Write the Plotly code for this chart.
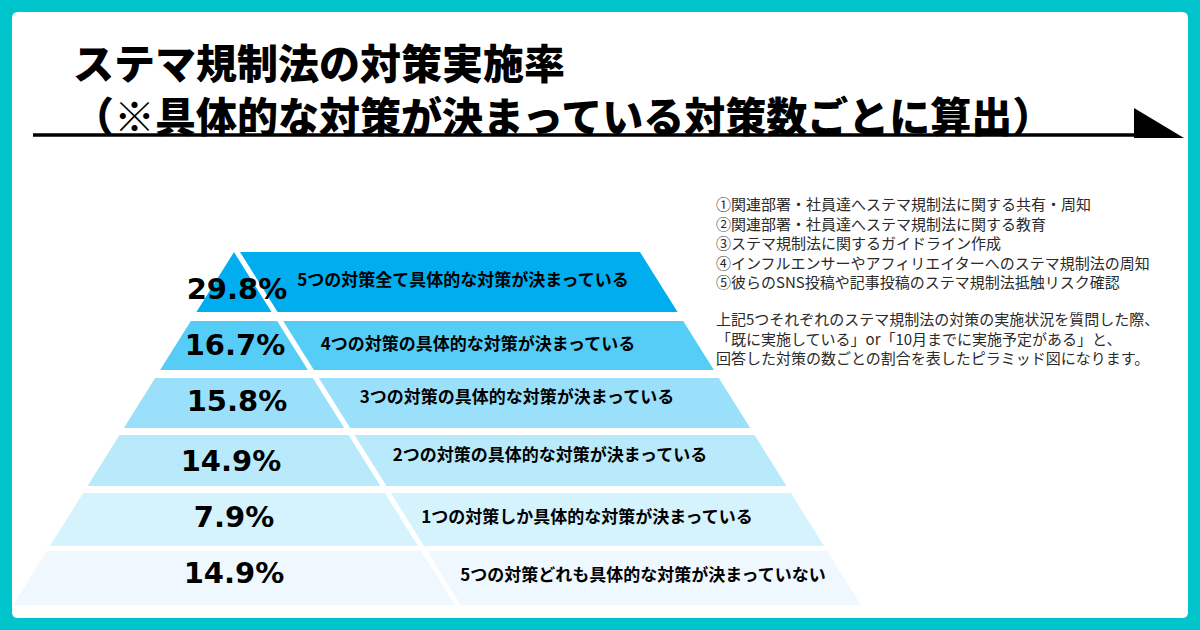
import plotly.graph_objects as go

# ---------------- data ----------------
pct_values = [29.8, 16.7, 15.8, 14.9, 7.9, 14.9]
tier_labels = [
    "5つの対策全て具体的な対策が決まっている",
    "4つの対策の具体的な対策が決まっている",
    "3つの対策の具体的な対策が決まっている",
    "2つの対策の具体的な対策が決まっている",
    "1つの対策しか具体的な対策が決まっている",
    "5つの対策どれも具体的な対策が決まっていない",
]
title_lines = [
    "ステマ規制法の対策実施率",
    "（※具体的な対策が決まっている対策数ごとに算出）",
]
measure_lines = [
    "①関連部署・社員達へステマ規制法に関する共有・周知",
    "②関連部署・社員達へステマ規制法に関する教育",
    "③ステマ規制法に関するガイドライン作成",
    "④インフルエンサーやアフィリエイターへのステマ規制法の周知",
    "⑤彼らのSNS投稿や記事投稿のステマ規制法抵触リスク確認",
]
note_lines = [
    "上記5つそれぞれのステマ規制法の対策の実施状況を質問した際、",
    "「既に実施している」or「10月までに実施予定がある」と、",
    "回答した対策の数ごとの割合を表したピラミッド図になります。",
]

# ---------------- styling / layout constants ----------------
W, H = 1200, 630
TEAL = "#00C4CC"
tier_colors = ["#00AEEF", "#55CDF6", "#9BE0FA", "#B8EAFC", "#D5F3FD", "#EEF8FE"]
band_top = [252, 321, 378, 435, 493, 551]
band_bot = [312, 370, 428, 486, 546, 605]
APEX_X, APEX_Y, TOP_RIGHT_X = 234.0, 252.0, 640.0
SLOPE = 0.626
GAP = 6.0
pct_pos = [(237, 292), (235, 348), (237, 404), (231, 464), (234, 520), (234, 576)]
label_pos = [(463, 282), (478, 346), (517, 399), (550, 457), (587, 519), (643, 577)]

JP = "Noto Sans CJK JP"


def x_left(y):
    return APEX_X - SLOPE * (y - APEX_Y)


def x_right(y):
    return TOP_RIGHT_X + SLOPE * (y - APEX_Y)


def x_split(y, side):
    base = APEX_X if side == "L" else APEX_X + GAP
    return base + SLOPE * (y - APEX_Y)


fig = go.Figure()

for i, (t, b) in enumerate(zip(band_top, band_bot)):
    lx = [x_left(t), x_split(t, "L"), x_split(b, "L"), x_left(b), x_left(t)]
    ly = [t, t, b, b, t]
    rx = [x_split(t, "R"), x_right(t), x_right(b), x_split(b, "R"), x_split(t, "R")]
    ry = [t, t, b, b, t]
    for xs, ys in ((lx, ly), (rx, ry)):
        fig.add_trace(go.Scatter(
            x=xs, y=ys, mode="lines", fill="toself",
            fillcolor=tier_colors[i], line=dict(width=0, color=tier_colors[i]),
            hoverinfo="skip", showlegend=False,
        ))

# percentages
fig.add_trace(go.Scatter(
    x=[p[0] for p in pct_pos], y=[p[1] for p in pct_pos],
    mode="text", text=[f"{v:.1f}%" for v in pct_values],
    textposition="middle center",
    textfont=dict(family="DejaVu Sans", size=29, color="#000000", weight=700),
    hoverinfo="skip", showlegend=False,
))
# tier labels
fig.add_trace(go.Scatter(
    x=[p[0] for p in label_pos], y=[p[1] for p in label_pos],
    mode="text", text=tier_labels,
    textposition="middle center",
    textfont=dict(family=JP, size=17, color="#000000", weight=700),
    hoverinfo="skip", showlegend=False,
))

annotations = [
    dict(x=71, y=87, xref="x", yref="y", text="<br>".join(title_lines),
         showarrow=False, xanchor="left", yanchor="middle", align="left",
         font=dict(family=JP, size=41, color="#000000", weight=900)),
    dict(x=714, y=242.3, xref="x", yref="y", text="<br>".join(measure_lines),
         showarrow=False, xanchor="left", yanchor="middle", align="left",
         font=dict(family=JP, size=15, color="#2a2a2a")),
    dict(x=714, y=338.4, xref="x", yref="y", text="<br>".join(note_lines),
         showarrow=False, xanchor="left", yanchor="middle", align="left",
         font=dict(family=JP, size=15, color="#2a2a2a")),
]

r = 6
x0, y0, x1, y1 = 12, 12, 1188, 618
panel_path = (
    f"M {x0+r},{y0} L {x1-r},{y0} Q {x1},{y0} {x1},{y0+r} "
    f"L {x1},{y1-r} Q {x1},{y1} {x1-r},{y1} L {x0+r},{y1} "
    f"Q {x0},{y1} {x0},{y1-r} L {x0},{y0+r} Q {x0},{y0} {x0+r},{y0} Z"
)
shapes = [
    dict(type="path", path=panel_path, xref="x", yref="y",
         fillcolor="#FFFFFF", line=dict(width=0), layer="below"),
    dict(type="line", x0=33, x1=1136, y0=135, y1=135, xref="x", yref="y",
         line=dict(color="#000000", width=3.5)),
    dict(type="path", path="M 1134,108 L 1134,138 L 1184,138 Z", xref="x", yref="y",
         fillcolor="#000000", line=dict(width=0)),
]

fig.update_layout(
    width=W, height=H, autosize=False,
    margin=dict(l=0, r=0, t=0, b=0),
    paper_bgcolor=TEAL, plot_bgcolor=TEAL,
    xaxis=dict(range=[0, W], visible=False, fixedrange=True),
    yaxis=dict(range=[H, 0], visible=False, fixedrange=True),
    shapes=shapes, annotations=annotations,
    showlegend=False,
)

fig.write_html(
    "out.html",
    config={"displayModeBar": False},
    post_script="document.body.style.margin='0';document.body.style.overflow='hidden';",
)
